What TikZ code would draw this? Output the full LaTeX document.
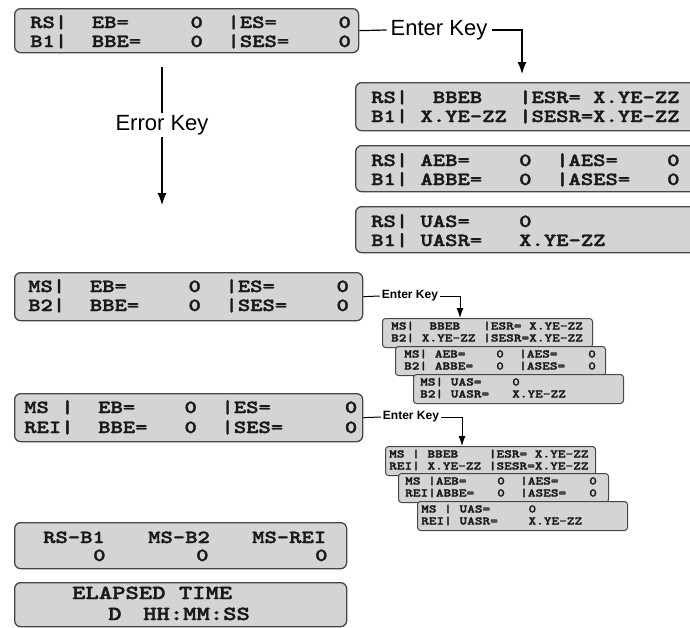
\documentclass[tikz,border=0pt]{standalone}
\usepackage{fontspec}
\usetikzlibrary{arrows.meta}
\newfontfamily\lcdfont{lmmonolt10-bold.otf}[FakeStretch=1.27,FakeBold=2]
\newfontfamily\keyfont{Liberation Sans}
\definecolor{lcdfill}{RGB}{212,212,212}
\definecolor{lcdline}{RGB}{70,70,70}
\definecolor{lcdtext}{RGB}{25,25,25}
\tikzset{
 lcd/.style={draw=lcdline, fill=lcdfill, line width=1.3pt, rounded corners=6pt, inner sep=0pt, anchor=north west},
 lcdsmall/.style={lcd, line width=1pt, rounded corners=3pt, minimum width=210, minimum height=29},
 bigtxt/.style={anchor=base west, inner sep=0pt, text=lcdtext, font={\lcdfont\fontsize{18.5}{20}\selectfont}},
 hugetxt/.style={bigtxt, font={\lcdfont\fontsize{20}{22}\selectfont}},
 smalltxt/.style={anchor=base west, inner sep=0pt, text=lcdtext, font={\lcdfont\fontsize{11.5}{12}\selectfont}},
 keylabel/.style={inner xsep=4pt, inner ysep=2pt, font={\keyfont\fontsize{22}{24}\selectfont}, text=black},
 keysmall/.style={inner xsep=2pt, inner ysep=1pt, font={\keyfont\bfseries\fontsize{12}{13}\selectfont}, text=black},
 conn/.style={draw=black, line width=1.2pt},
 bigarrow/.style={conn, -{Latex[length=12pt,width=9pt]}},
 smallarrow/.style={conn, line width=1pt, -{Latex[length=10pt,width=7pt]}},
}
\begin{document}
\begin{tikzpicture}[x=1pt,y=-1pt]
\useasboundingbox (0,0) rectangle (690,627);
% ---- top-left display
\node[lcd, minimum width=344, minimum height=44] (box1) at (14,8) {};
\node[bigtxt] (b1a) at (30,28) {RS|~~EB=~~~~~0~~|ES=~~~~~0};
\node[bigtxt] (b1b) at (30,47) {B1|~~BBE=~~~~0~~|SES=~~~~0};
% ---- right column
\node[lcd, minimum width=345, minimum height=48] (box2) at (355,82) {};
\node[bigtxt] (b2a) at (371,103) {RS|~~BBEB~~~|ESR=~X.YE-ZZ};
\node[bigtxt] (b2b) at (371,122) {B1|~X.YE-ZZ~|SESR=X.YE-ZZ};
\node[lcd, minimum width=345, minimum height=46] (box3) at (355,145) {};
\node[bigtxt] (b3a) at (371,166) {RS|~AEB=~~~~0~~|AES=~~~~0};
\node[bigtxt] (b3b) at (371,185) {B1|~ABBE=~~~0~~|ASES=~~~0};
\node[lcd, minimum width=345, minimum height=46] (box4) at (355,206) {};
\node[bigtxt] (b4a) at (371,227) {RS|~UAS=~~~~0};
\node[bigtxt] (b4b) at (371,246) {B1|~UASR=~~~X.YE-ZZ};
% ---- MS / B2
\node[lcd, minimum width=348, minimum height=48] (box5) at (14,272) {};
\node[bigtxt] (b5a) at (28,292) {MS|~~EB=~~~~~0~~|ES=~~~~~0};
\node[bigtxt] (b5b) at (28,311) {B2|~~BBE=~~~~0~~|SES=~~~~0};
% ---- MS / REI
\node[lcd, minimum width=348, minimum height=48] (box6) at (14,393) {};
\node[bigtxt] (b6a) at (24,413) {MS~|~~EB=~~~~0~~|ES=~~~~~~0};
\node[bigtxt] (b6b) at (24,433) {REI|~~BBE=~~~0~~|SES=~~~~~0};
% ---- totals
\node[lcd, minimum width=332, minimum height=46] (box7) at (14,522) {};
\node[bigtxt] (t1) at (43,543) {RS-B1};
\node[bigtxt] (t2) at (148,543) {MS-B2};
\node[bigtxt] (t3) at (252,543) {MS-REI};
\node[bigtxt] (z1) at (93,561) {0};
\node[bigtxt] (z2) at (196,561) {0};
\node[bigtxt] (z3) at (315,561) {0};
\node[lcd, minimum width=332, minimum height=44] (box8) at (14,582) {};
\node[hugetxt] (e1) at (72,599) {ELAPSED~TIME};
\node[hugetxt] (e2) at (108,620) {D};
\node[hugetxt] (e3) at (143,620) {HH:MM:SS};
% ---- B2 stack
\node[lcdsmall] (sa) at (382,318) {};
\node[smalltxt] (sa1) at (391,329.5) {MS|~~BBEB~~~|ESR=~X.YE-ZZ};
\node[smalltxt] (sa2) at (391,341.5) {B2|~X.YE-ZZ~|SESR=X.YE-ZZ};
\node[lcdsmall] (sb) at (395,346) {};
\node[smalltxt] (sb1) at (404,357.5) {MS|~AEB=~~~~0~~|AES=~~~~0};
\node[smalltxt] (sb2) at (404,369.5) {B2|~ABBE=~~~0~~|ASES=~~~0};
\node[lcdsmall] (sc) at (413,374) {};
\node[smalltxt] (sc1) at (420,385.5) {MS|~UAS=~~~~0};
\node[smalltxt] (sc2) at (420,397.5) {B2|~UASR=~~~X.YE-ZZ};
% ---- REI stack
\node[lcdsmall] (ra) at (385,446) {};
\node[smalltxt] (ra1) at (389,457.5) {MS~|~BBEB~~~~|ESR=~X.YE-ZZ};
\node[smalltxt] (ra2) at (389,469.5) {REI|~X.YE-ZZ~|SESR=X.YE-ZZ};
\node[lcdsmall] (rb) at (398,473) {};
\node[smalltxt] (rb1) at (405,484.5) {MS~|AEB=~~~~0~~|AES=~~~~0};
\node[smalltxt] (rb2) at (405,496.5) {REI|ABBE=~~~0~~|ASES=~~~0};
\node[lcdsmall] (rc) at (417,501) {};
\node[smalltxt] (rc1) at (421,512.5) {MS~|~UAS=~~~~~0};
\node[smalltxt] (rc2) at (421,524.5) {REI|~UASR=~~~~X.YE-ZZ};
% ---- key labels and connectors
\node[keylabel] (ek1) at (439,30) {Enter Key};
\coordinate (c1) at (522,30);
\draw[conn] (box1.east) -- (ek1.west);
\draw[bigarrow, shorten >=8pt] (ek1.east) -- (c1) -- (c1 |- box2.north);
\node[keylabel] (rk) at (162,125) {Error Key};
\coordinate (r0) at (162,67);
\coordinate (r1) at (162,205);
\draw[conn] (r0) -- (rk.north);
\draw[bigarrow] (rk.south) -- (r1);
\node[keysmall] (ek2) at (410,296) {Enter Key};
\coordinate (c2) at (460,296);
\draw[conn, line width=1pt] (box5.east) -- (ek2.west);
\draw[smallarrow] (ek2.east) -- (c2) -- (c2 |- sa.north);
\node[keysmall] (ek3) at (411,417) {Enter Key};
\coordinate (c3) at (462,417);
\draw[conn, line width=1pt] (box6.east) -- (ek3.west);
\draw[smallarrow] (ek3.east) -- (c3) -- (c3 |- ra.north);
\end{tikzpicture}
\end{document}
